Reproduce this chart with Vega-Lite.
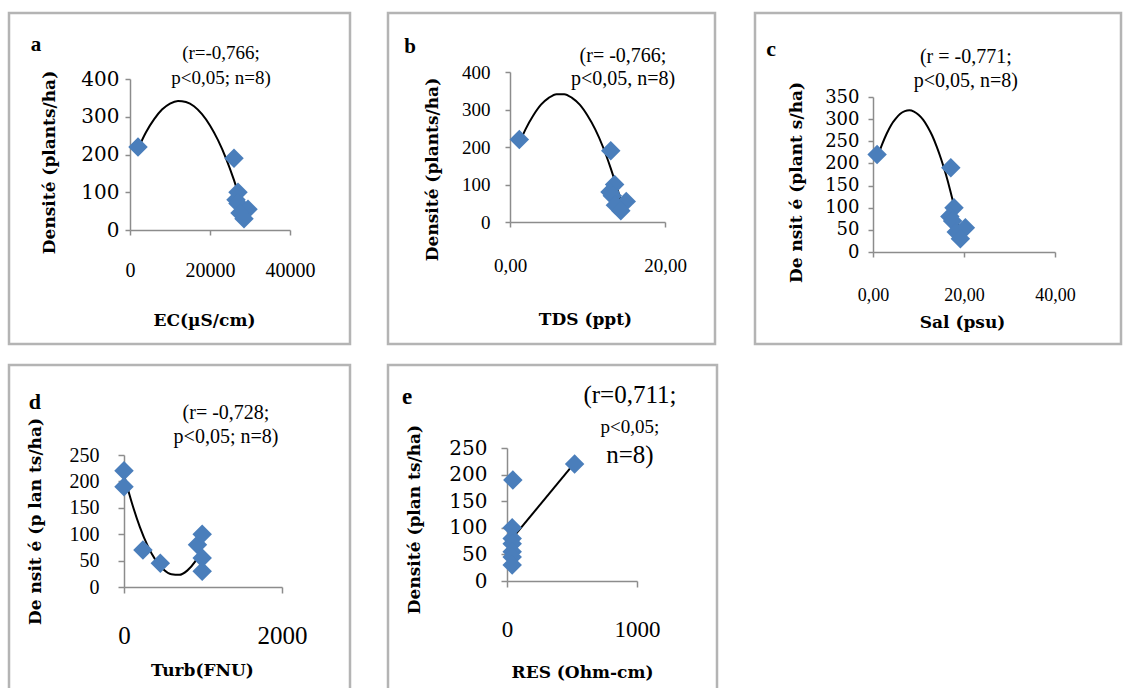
{
  "$schema": "https://vega.github.io/schema/vega-lite/v6.json",
  "background": "white",
  "padding": {"left": 7, "top": 11, "right": 0, "bottom": 0},
  "bounds": "flush",
  "align": "each",
  "columns": 3,
  "spacing": {"row": 21, "column": 38},
  "config": {
    "view": {"stroke": "#b4b4b4", "strokeWidth": 2.5, "fill": "white"},
    "point": {"shape": "diamond", "filled": true, "color": "#4a7ebb", "size": 380, "opacity": 1},
    "axis": {
      "grid": false, "domainColor": "#8c8c8c", "domainWidth": 1.5, "tickColor": "#8c8c8c", "tickWidth": 1.5, "tickSize": 5,
      "labelColor": "black", "titleColor": "black", "labelFont": "Liberation Serif", "titleFont": "DejaVu Serif",
      "titleFontWeight": "bold", "titleFontSize": 17, "labelOverlap": false, "labelFlush": false, "labelBaseline": "middle",
      "titleBaseline": "middle", "titleAlign": "center"
    }
  },
  "datasets": {
    "ptsA": [{"x": 2000, "y": 220}, {"x": 26000, "y": 190}, {"x": 27000, "y": 100}, {"x": 26500, "y": 80}, {"x": 27000, "y": 70}, {"x": 29500, "y": 55}, {"x": 27500, "y": 45}, {"x": 28500, "y": 30}],
    "curveA": [{"x": 2000, "y": 215}, {"x": 4000, "y": 259}, {"x": 6000, "y": 293}, {"x": 8000, "y": 319}, {"x": 10000, "y": 335}, {"x": 12000, "y": 342}, {"x": 14000, "y": 339}, {"x": 16000, "y": 328}, {"x": 18000, "y": 307}, {"x": 20000, "y": 277}, {"x": 22000, "y": 238}, {"x": 24000, "y": 190}, {"x": 26000, "y": 132}, {"x": 28000, "y": 64}, {"x": 29000, "y": 28}],
    "ptsB": [{"x": 1.2, "y": 220}, {"x": 13.0, "y": 190}, {"x": 13.5, "y": 100}, {"x": 12.9, "y": 80}, {"x": 13.2, "y": 70}, {"x": 15.0, "y": 55}, {"x": 13.6, "y": 45}, {"x": 14.3, "y": 30}],
    "curveB": [{"x": 1.3, "y": 215}, {"x": 2, "y": 247}, {"x": 3, "y": 284}, {"x": 4, "y": 313}, {"x": 5, "y": 331}, {"x": 6, "y": 341}, {"x": 7, "y": 341}, {"x": 8, "y": 331}, {"x": 9, "y": 313}, {"x": 10, "y": 284}, {"x": 11, "y": 247}, {"x": 12, "y": 200}, {"x": 13, "y": 143}, {"x": 14, "y": 78}, {"x": 14.7, "y": 26}],
    "ptsC": [{"x": 0.9, "y": 220}, {"x": 17.1, "y": 190}, {"x": 17.8, "y": 100}, {"x": 16.9, "y": 80}, {"x": 17.5, "y": 70}, {"x": 20.3, "y": 55}, {"x": 18.3, "y": 45}, {"x": 19.2, "y": 30}],
    "curveC": [{"x": 1, "y": 215}, {"x": 2, "y": 243}, {"x": 3, "y": 267}, {"x": 4, "y": 287}, {"x": 5, "y": 301}, {"x": 6, "y": 312}, {"x": 7, "y": 318}, {"x": 8, "y": 320}, {"x": 9, "y": 317}, {"x": 10, "y": 310}, {"x": 11, "y": 299}, {"x": 12, "y": 283}, {"x": 13, "y": 263}, {"x": 14, "y": 238}, {"x": 15, "y": 209}, {"x": 16, "y": 176}, {"x": 17, "y": 138}, {"x": 18, "y": 96}, {"x": 19, "y": 50}, {"x": 19.6, "y": 19}],
    "ptsD": [{"x": 0, "y": 220}, {"x": 0, "y": 190}, {"x": 240, "y": 70}, {"x": 460, "y": 45}, {"x": 930, "y": 80}, {"x": 990, "y": 100}, {"x": 990, "y": 55}, {"x": 990, "y": 30}],
    "curveD": [{"x": 0, "y": 212}, {"x": 100, "y": 159}, {"x": 200, "y": 114}, {"x": 300, "y": 78}, {"x": 400, "y": 51}, {"x": 500, "y": 33}, {"x": 600, "y": 24}, {"x": 700, "y": 23}, {"x": 800, "y": 31}, {"x": 900, "y": 48}, {"x": 987, "y": 70}],
    "ptsE": [{"x": 520, "y": 220}, {"x": 45, "y": 190}, {"x": 40, "y": 100}, {"x": 40, "y": 80}, {"x": 40, "y": 70}, {"x": 40, "y": 55}, {"x": 40, "y": 45}, {"x": 40, "y": 30}],
    "curveE": [{"x": 40, "y": 80}, {"x": 520, "y": 222}],
    "one": [{}]
  },
  "concat": [
    {
      "width": 341, "height": 331,
      "layer": [
        {"data": {"name": "curveA"}, "mark": {"type": "line", "color": "black", "strokeWidth": 2, "interpolate": "monotone"},
         "encoding": {
           "x": {"field": "x", "type": "quantitative", "scale": {"domain": [0, 40000], "range": [121, 281], "nice": false, "zero": false},
                 "axis": {"values": [0, 20000, 40000], "format": "d", "offset": -114, "labelPadding": 35, "labelFontSize": 20, "title": "EC(µS/cm)", "titleX": 195, "titleY": 90}},
           "y": {"field": "y", "type": "quantitative", "scale": {"domain": [0, 400], "range": [217, 66], "nice": false, "zero": false},
                 "axis": {"values": [0, 100, 200, 300, 400], "offset": -121, "labelPadding": 6, "labelFont": "DejaVu Serif", "labelFontSize": 20, "title": "Densité (plants/ha)", "titleX": -81, "titleY": 149, "titleAngle": -90}}
         }},
        {"data": {"name": "ptsA"}, "mark": {"type": "point"},
         "encoding": {"x": {"field": "x", "type": "quantitative"}, "y": {"field": "y", "type": "quantitative"}}},
        {"data": {"name": "one"}, "mark": {"type": "text", "font": "Liberation Serif", "fontSize": 19, "align": "center", "baseline": "middle", "lineHeight": 25},
         "encoding": {"x": {"datum": 22750, "type": "quantitative"}, "y": {"datum": 470, "type": "quantitative"}, "text": {"value": ["(r=-0,766;", "p<0,05; n=8)"]}}},
        {"data": {"name": "one"}, "mark": {"type": "text", "font": "Liberation Serif", "fontSize": 21, "fontWeight": "bold", "align": "center", "baseline": "middle"},
         "encoding": {"x": {"datum": -23500, "type": "quantitative"}, "y": {"datum": 490, "type": "quantitative"}, "text": {"value": "a"}}}
      ]
    },
    {
      "width": 327, "height": 331,
      "layer": [
        {"data": {"name": "curveB"}, "mark": {"type": "line", "color": "black", "strokeWidth": 2, "interpolate": "monotone"},
         "encoding": {
           "x": {"field": "x", "type": "quantitative", "scale": {"domain": [0, 20], "range": [122, 277], "nice": false, "zero": false},
                 "axis": {"values": [0, 20], "offset": -122, "labelPadding": 38, "labelFontSize": 19, "labelExpr": "replace(format(datum.value, '.2f'), '.', ',')", "title": "TDS (ppt)", "titleX": 197, "titleY": 97}},
           "y": {"field": "y", "type": "quantitative", "scale": {"domain": [0, 400], "range": [209, 59], "nice": false, "zero": false},
                 "axis": {"values": [0, 100, 200, 300, 400], "offset": -122, "labelPadding": 15, "labelFontSize": 19, "title": "Densité (plants/ha)", "titleX": -78, "titleY": 156, "titleAngle": -90}}
         }},
        {"data": {"name": "ptsB"}, "mark": {"type": "point"},
         "encoding": {"x": {"field": "x", "type": "quantitative"}, "y": {"field": "y", "type": "quantitative"}}},
        {"data": {"name": "one"}, "mark": {"type": "text", "font": "Liberation Serif", "fontSize": 20, "align": "center", "baseline": "middle", "lineHeight": 23},
         "encoding": {"x": {"datum": 14.58, "type": "quantitative"}, "y": {"datum": 444, "type": "quantitative"}, "text": {"value": ["(r= -0,766;", "p<0,05, n=8)"]}}},
        {"data": {"name": "one"}, "mark": {"type": "text", "font": "Liberation Serif", "fontSize": 21, "fontWeight": "bold", "align": "center", "baseline": "middle"},
         "encoding": {"x": {"datum": -12.9, "type": "quantitative"}, "y": {"datum": 467, "type": "quantitative"}, "text": {"value": "b"}}}
      ]
    },
    {
      "width": 366, "height": 331,
      "layer": [
        {"data": {"name": "curveC"}, "mark": {"type": "line", "color": "black", "strokeWidth": 2, "interpolate": "monotone"},
         "encoding": {
           "x": {"field": "x", "type": "quantitative", "scale": {"domain": [0, 40], "range": [118, 300], "nice": false, "zero": false},
                 "axis": {"values": [0, 20, 40], "offset": -92, "labelPadding": 38, "labelFontSize": 18, "labelExpr": "replace(format(datum.value, '.2f'), '.', ',')", "title": "Sal (psu)", "titleX": 207, "titleY": 70}},
           "y": {"field": "y", "type": "quantitative", "scale": {"domain": [0, 350], "range": [239, 84], "nice": false, "zero": false},
                 "axis": {"values": [0, 50, 100, 150, 200, 250, 300, 350], "offset": -118, "labelPadding": 9, "labelFont": "DejaVu Serif", "labelFontSize": 18, "title": "De nsit é (plant s/ha)", "titleX": -77, "titleY": 169, "titleAngle": -90}}
         }},
        {"data": {"name": "ptsC"}, "mark": {"type": "point"},
         "encoding": {"x": {"field": "x", "type": "quantitative"}, "y": {"field": "y", "type": "quantitative"}}},
        {"data": {"name": "one"}, "mark": {"type": "text", "font": "Liberation Serif", "fontSize": 20, "align": "center", "baseline": "middle", "lineHeight": 24},
         "encoding": {"x": {"datum": 20.4, "type": "quantitative"}, "y": {"datum": 440, "type": "quantitative"}, "text": {"value": ["(r = -0,771;", "p<0,05, n=8)"]}}},
        {"data": {"name": "one"}, "mark": {"type": "text", "font": "Liberation Serif", "fontSize": 22, "fontWeight": "bold", "align": "center", "baseline": "middle"},
         "encoding": {"x": {"datum": -22.4, "type": "quantitative"}, "y": {"datum": 458, "type": "quantitative"}, "text": {"value": "c"}}}
      ]
    },
    {
      "width": 341, "height": 340,
      "layer": [
        {"data": {"name": "curveD"}, "mark": {"type": "line", "color": "black", "strokeWidth": 2, "interpolate": "monotone"},
         "encoding": {
           "x": {"field": "x", "type": "quantitative", "scale": {"domain": [0, 2000], "range": [115, 273], "nice": false, "zero": false},
                 "axis": {"values": [0, 2000], "format": "d", "offset": -118, "tickSize": 6, "labelPadding": 42, "labelFontSize": 25, "title": "Turb(FNU)", "titleX": 193, "titleY": 83}},
           "y": {"field": "y", "type": "quantitative", "scale": {"domain": [0, 250], "range": [222, 90], "nice": false, "zero": false},
                 "axis": {"values": [0, 50, 100, 150, 200, 250], "offset": -115, "tickSize": 6, "labelPadding": 19, "labelFontSize": 20, "title": "De nsit é (p lan ts/ha)", "titleX": -89, "titleY": 156, "titleAngle": -90}}
         }},
        {"data": {"name": "ptsD"}, "mark": {"type": "point"},
         "encoding": {"x": {"field": "x", "type": "quantitative"}, "y": {"field": "y", "type": "quantitative"}}},
        {"data": {"name": "one"}, "mark": {"type": "text", "font": "Liberation Serif", "fontSize": 20, "align": "center", "baseline": "middle", "lineHeight": 24},
         "encoding": {"x": {"datum": 1291, "type": "quantitative"}, "y": {"datum": 330, "type": "quantitative"}, "text": {"value": ["(r= -0,728;", "p<0,05; n=8)"]}}},
        {"data": {"name": "one"}, "mark": {"type": "text", "font": "Liberation Serif", "fontSize": 22, "fontWeight": "bold", "align": "center", "baseline": "middle"},
         "encoding": {"x": {"datum": -1127, "type": "quantitative"}, "y": {"datum": 350, "type": "quantitative"}, "text": {"value": "d"}}}
      ]
    },
    {
      "width": 329, "height": 340,
      "layer": [
        {"data": {"name": "curveE"}, "mark": {"type": "line", "color": "black", "strokeWidth": 2},
         "encoding": {
           "x": {"field": "x", "type": "quantitative", "scale": {"domain": [0, 1000], "range": [119, 249], "nice": false, "zero": false},
                 "axis": {"values": [0, 1000], "format": "d", "offset": -124, "tickSize": 6, "labelPadding": 42, "labelFontSize": 23, "title": "RES (Ohm-cm)", "titleX": 194, "titleY": 91}},
           "y": {"field": "y", "type": "quantitative", "scale": {"domain": [0, 250], "range": [216, 83], "nice": false, "zero": false},
                 "axis": {"values": [0, 50, 100, 150, 200, 250], "offset": -119, "tickSize": 6, "labelPadding": 14, "labelFont": "DejaVu Serif", "labelFontSize": 20, "title": "Densité (plan ts/ha)", "titleX": -93, "titleY": 154, "titleAngle": -90}}
         }},
        {"data": {"name": "ptsE"}, "mark": {"type": "point"},
         "encoding": {"x": {"field": "x", "type": "quantitative"}, "y": {"field": "y", "type": "quantitative"}}},
        {"data": {"name": "one"}, "mark": {"type": "text", "font": "Liberation Serif", "fontSize": 25, "align": "center", "baseline": "middle"},
         "encoding": {"x": {"datum": 946, "type": "quantitative"}, "y": {"datum": 350, "type": "quantitative"}, "text": {"value": "(r=0,711;"}}},
        {"data": {"name": "one"}, "mark": {"type": "text", "font": "Liberation Serif", "fontSize": 19, "align": "center", "baseline": "middle"},
         "encoding": {"x": {"datum": 946, "type": "quantitative"}, "y": {"datum": 289, "type": "quantitative"}, "text": {"value": "p<0,05;"}}},
        {"data": {"name": "one"}, "mark": {"type": "text", "font": "Liberation Serif", "fontSize": 25, "align": "center", "baseline": "middle"},
         "encoding": {"x": {"datum": 946, "type": "quantitative"}, "y": {"datum": 237, "type": "quantitative"}, "text": {"value": "n=8)"}}},
        {"data": {"name": "one"}, "mark": {"type": "text", "font": "Liberation Serif", "fontSize": 23, "fontWeight": "bold", "align": "center", "baseline": "middle"},
         "encoding": {"x": {"datum": -769, "type": "quantitative"}, "y": {"datum": 346, "type": "quantitative"}, "text": {"value": "e"}}}
      ]
    }
  ]
}
